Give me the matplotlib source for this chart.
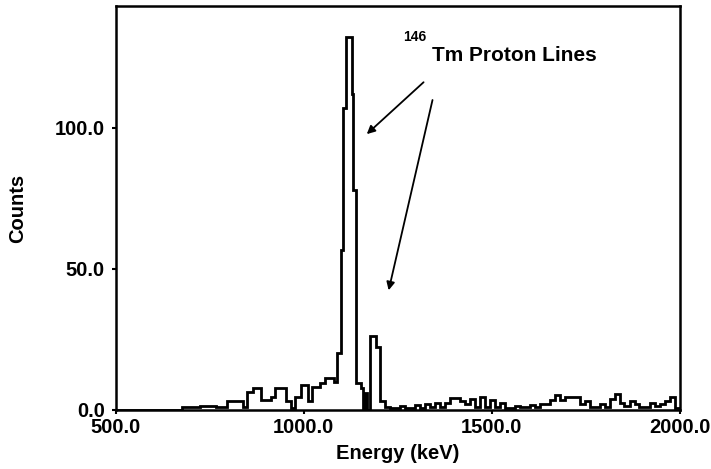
import numpy as np
from matplotlib import pyplot as plt

############# Data ############
# bin edges in keV and counts per bin
edges = [500, 675, 725, 767, 795, 838, 848, 864, 887, 913, 922, 953, 966, 976,
         993, 1010, 1023, 1042, 1056, 1080, 1088, 1098, 1105, 1113, 1127, 1131,
         1138, 1151, 1158, 1163, 1168, 1177, 1191, 1202, 1215, 1230,
         1255, 1268, 1295, 1308, 1322, 1335, 1348, 1362, 1375, 1388, 1415, 1428,
         1441, 1455, 1468, 1481, 1495, 1508, 1521, 1535, 1561, 1575, 1601, 1614,
         1628, 1654, 1667, 1681, 1694, 1734, 1747, 1760, 1787, 1800, 1814, 1827,
         1840, 1853, 1867, 1880, 1893, 1920, 1933, 1947, 1960, 1973, 1987, 2000]
counts = [0, 1, 1.5, 1, 3, 1, 6.5, 7.8, 3.5, 4.5, 7.7, 3, 0.5,
          4.6, 8.8, 3, 8.2, 9.4, 11.3, 10, 20, 56.5, 107, 132, 112,
          78, 9.5, 7.7, 0, 6, 0, 26, 22.4, 3, 1,
          0.7, 1.5, 0.7, 1.8, 0.7, 2, 1, 2.5, 1, 2.5, 4.2, 3,
          2, 4, 1, 4.5, 1, 3.5, 1, 2.5, 0.8, 1.5, 1, 1.8,
          1, 2, 3.5, 5.3, 3.5, 4.5, 2, 3, 1.2, 2, 1, 4,
          5.7, 2.5, 1.5, 3, 2, 1.2, 2.5, 1.5, 2, 3, 4.5, 0.5]

xticks = [500, 1000, 1500, 2000]
yticks = [0, 50, 100]
###############################################################

plt.rcParams['font.family'] = ['Liberation Sans', 'DejaVu Sans']
plt.rcParams['font.weight'] = 'bold'

fig = plt.figure(figsize=(7.11, 4.69), dpi=100)
ax = fig.add_axes([0.163, 0.126, 0.793, 0.861])

ax.stairs(counts, edges, color='black', lw=2.0, baseline=None)

ax.set_xlim(500, 2000)
ax.set_ylim(0, 143)
ax.set_xticks(xticks)
ax.set_xticklabels(['%.1f' % v for v in xticks], fontsize=14.5, fontweight='bold')
ax.set_yticks(yticks)
ax.set_yticklabels(['%.1f' % v for v in yticks], fontsize=14.5, fontweight='bold')
ax.tick_params(direction='out', length=3, width=1.5)
ax.tick_params(axis='x', pad=3)
ax.tick_params(axis='y', pad=5)
for s in ax.spines.values():
	s.set_linewidth(1.8)

ax.set_xlabel('Energy (keV)', fontsize=14.5, fontweight='bold', labelpad=5)
ax.set_ylabel('Counts', fontsize=14.5, fontweight='bold', labelpad=20)

# annotation
ax.text(1340, 123.5, 'Tm Proton Lines', fontsize=15, fontweight='bold', va='baseline')
ax.text(1263, 130.5, '146', fontsize=10, fontweight='bold', va='baseline')
arrow = dict(arrowstyle='-|>', lw=1.3, color='black', mutation_scale=12)
ax.annotate('', xy=(1162, 97), xytext=(1324, 116.7), arrowprops=arrow)
ax.annotate('', xy=(1224, 41.4), xytext=(1344, 110.7), arrowprops=arrow)

fig.savefig('out.png', dpi=100)
